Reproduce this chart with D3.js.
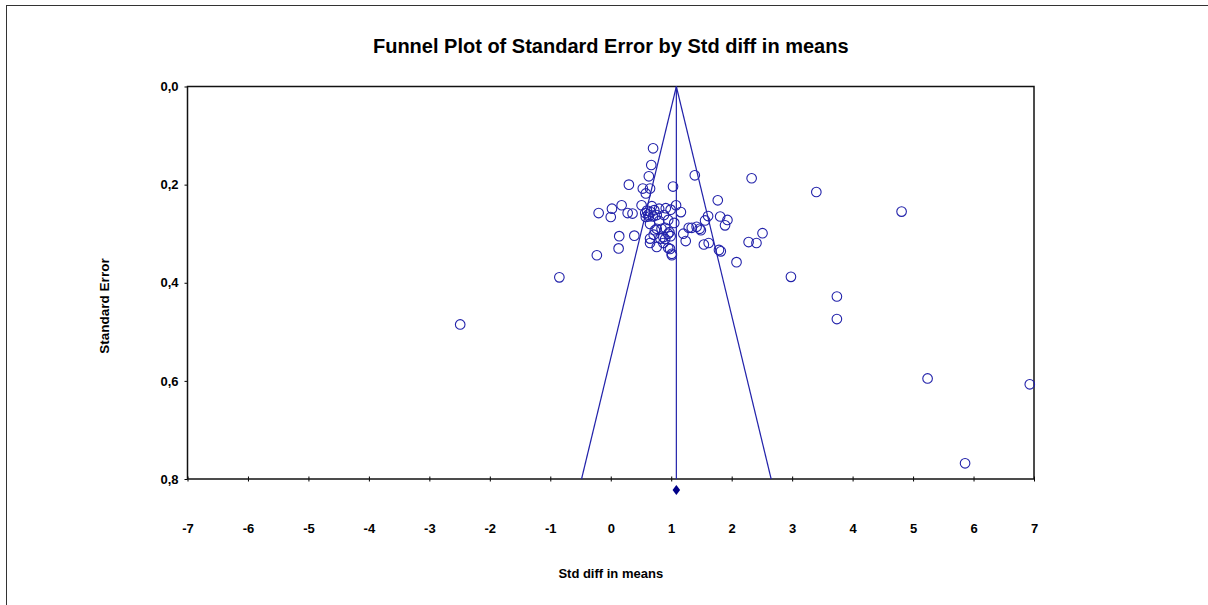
<!DOCTYPE html>
<html>
<head>
<meta charset="utf-8">
<script src="https://cdn.jsdelivr.net/npm/d3@7"></script>
<style>
  body { margin: 0; background: #fff; }
  svg text { font-family: "Liberation Sans", Arial, sans-serif; font-weight: bold; fill: #000; }
</style>
</head>
<body>
<svg id="chart" width="1208" height="605"></svg>
<script>
"use strict";

// study effects (Std diff in means) and their standard errors
const effect = [
  0.70, 0.67, 0.63, 1.39, 2.33, 0.30, 1.03, 0.53, 0.65, 0.58,
  0.18, 0.51, 0.68, 1.08, 0.02, 0.80, 0.91, 0.99, -0.20, 0.28,
  0.36, 0.60, 0.57, 0.62, 0.66, 0.72, 1.16, 0.00, 0.58, 0.63,
  0.70, 0.76, 1.77, 1.61, 1.56, 1.81, 1.93, 1.89, 0.65, 0.80,
  0.95, 1.05, 0.88, 1.29, 1.34, 1.42, 1.47, 1.49, 0.73, 0.76,
  0.84, 0.90, 0.97, 1.20, 0.95, 0.14, 0.39, 0.71, 0.87, 0.99,
  0.65, 0.82, 0.90, 1.24, 0.65, 0.87, 0.76, 0.95, 0.98, 1.01,
  1.01, 0.13, -0.23, 1.54, 1.62, 1.79, 1.82, 2.08, 2.28, 2.41,
  2.51, 3.40, 4.81, 2.98, 3.74, 3.74, 5.24, 6.93, 5.86, -2.49,
  -0.85
];
const stdErr = [
  0.126, 0.160, 0.183, 0.181, 0.187, 0.200, 0.204, 0.208, 0.208, 0.218,
  0.242, 0.242, 0.244, 0.242, 0.249, 0.249, 0.248, 0.251, 0.258, 0.258,
  0.259, 0.253, 0.258, 0.261, 0.256, 0.252, 0.256, 0.266, 0.266, 0.265,
  0.265, 0.262, 0.232, 0.264, 0.273, 0.265, 0.272, 0.283, 0.280, 0.274,
  0.272, 0.278, 0.262, 0.288, 0.288, 0.286, 0.290, 0.293, 0.293, 0.290,
  0.290, 0.288, 0.297, 0.300, 0.300, 0.305, 0.304, 0.302, 0.307, 0.305,
  0.310, 0.310, 0.311, 0.315, 0.319, 0.319, 0.327, 0.329, 0.331, 0.341,
  0.344, 0.330, 0.344, 0.322, 0.319, 0.333, 0.336, 0.358, 0.317, 0.319,
  0.299, 0.215, 0.255, 0.388, 0.428, 0.474, 0.595, 0.607, 0.768, 0.485,
  0.389
];

const pooled = 1.085;   // combined effect
const xTicks = [-7, -6, -5, -4, -3, -2, -1, 0, 1, 2, 3, 4, 5, 6, 7];
const yTicks = [0, 0.2, 0.4, 0.6, 0.8];

const blue = "#2222aa";
const svg = d3.select("#chart");

// outer frame
svg.append("rect")
    .attr("x", 6.5).attr("y", 5.5)
    .attr("width", 1220).attr("height", 620)
    .attr("fill", "none").attr("stroke", "#333").attr("stroke-width", 1);

const pLeft = 187.5, pRight = 1034, pTop = 86.5, pBottom = 479;

const x = d3.scaleLinear().domain([-7, 7]).range([pLeft, pRight]);
const y = d3.scaleLinear().domain([0, 0.8]).range([pTop, pBottom]);

svg.append("text")
    .attr("x", (pLeft + pRight) / 2).attr("y", 53)
    .attr("text-anchor", "middle")
    .style("font-size", "20px")
    .text("Funnel Plot of Standard Error by Std diff in means");

// y axis
const yAxis = svg.append("g")
    .attr("transform", `translate(${pLeft},0)`)
    .call(d3.axisLeft(y).tickValues(yTicks).tickSize(3).tickPadding(6)
      .tickFormat(d => d3.format(".1f")(d).replace(".", ",")));
yAxis.select(".domain").remove();
yAxis.selectAll("line").attr("stroke", "#000");
yAxis.selectAll("text").style("font-size", "13px").style("font-family", null);

// x axis
const xAxis = svg.append("g")
    .attr("transform", `translate(0,${pBottom})`)
    .call(d3.axisBottom(x).tickValues(xTicks).tickSize(0).tickPadding(45)
      .tickFormat(d => String(d)));
xAxis.select(".domain").remove();
xAxis.selectAll("text").style("font-size", "13px").style("font-family", null);
xAxis.selectAll(".tick").append("line")
    .attr("y1", -2.5).attr("y2", 2.5).attr("stroke", "#000");

// plot border
svg.append("rect")
    .attr("x", pLeft).attr("y", pTop)
    .attr("width", pRight - pLeft).attr("height", pBottom - pTop)
    .attr("fill", "none").attr("stroke", "#111").attr("stroke-width", 1.5);

svg.append("text")
    .attr("transform", "translate(109,306) rotate(-90)")
    .attr("text-anchor", "middle")
    .style("font-size", "13.5px")
    .text("Standard Error");

svg.append("text")
    .attr("x", (pLeft + pRight) / 2).attr("y", 578)
    .attr("text-anchor", "middle")
    .style("font-size", "13px")
    .text("Std diff in means");

// funnel and pooled line
const g = svg.append("g");
const seMax = 0.8;
g.append("line")
    .attr("x1", x(pooled)).attr("y1", y(0))
    .attr("x2", x(pooled)).attr("y2", y(seMax))
    .attr("stroke", blue).attr("stroke-width", 1.2);
[-1, 1].forEach(s => {
  g.append("line")
      .attr("x1", x(pooled)).attr("y1", y(0))
      .attr("x2", x(pooled + s * 1.96 * seMax)).attr("y2", y(seMax))
      .attr("stroke", blue).attr("stroke-width", 1.2);
});

// studies
g.selectAll("circle")
    .data(effect.map((e, i) => [e, stdErr[i]]))
    .enter()
    .append("circle")
    .attr("cx", d => x(d[0]))
    .attr("cy", d => y(d[1]))
    .attr("r", 4.8)
    .attr("fill", "none")
    .attr("stroke", blue)
    .attr("stroke-width", 1.1);

// combined diamond below the axis
const dx = x(pooled), dy = pBottom + 11;
svg.append("path")
    .attr("d", `M${dx},${dy - 5} L${dx + 3.8},${dy} L${dx},${dy + 5} L${dx - 3.8},${dy} Z`)
    .attr("fill", "#000088");
</script>
</body>
</html>
